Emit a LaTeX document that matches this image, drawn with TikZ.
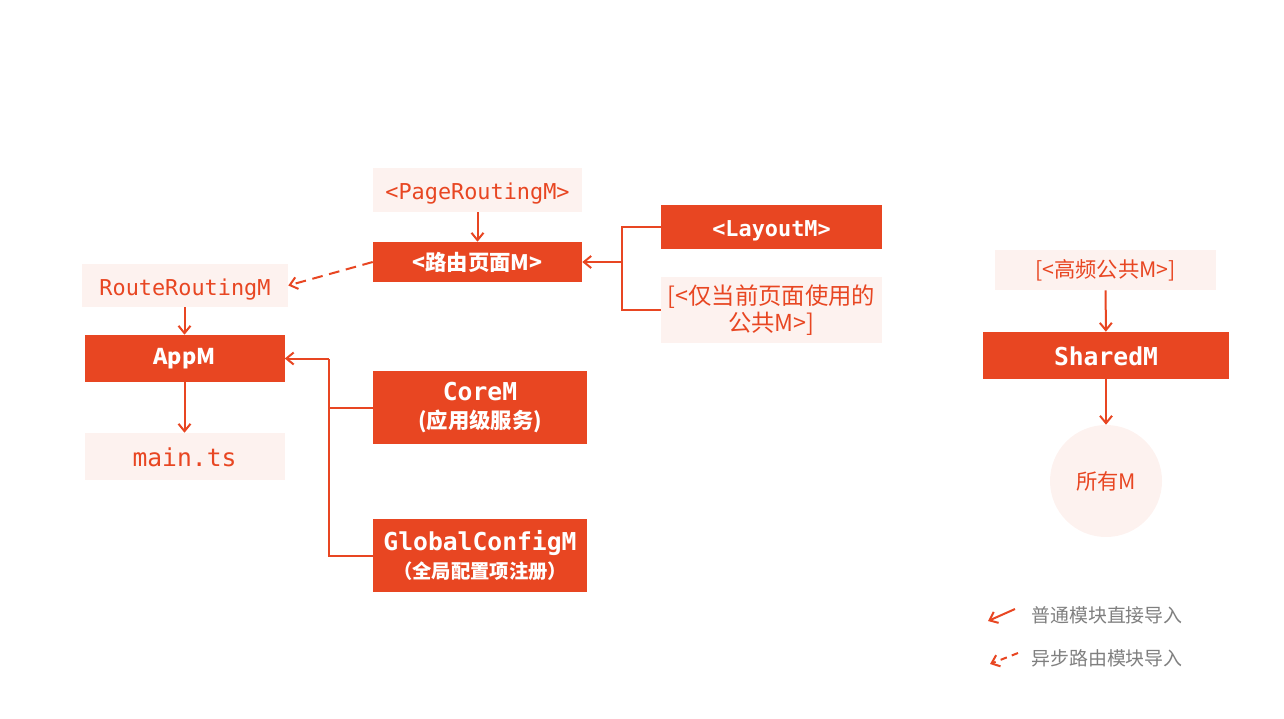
\documentclass[tikz,border=0pt]{standalone}
\usepackage{fontspec}
\setmainfont{Noto Sans CJK SC}
\setmonofont{DejaVu Sans Mono}
\usetikzlibrary{arrows.meta}
\definecolor{org}{HTML}{E84622}
\definecolor{lite}{HTML}{FDF2EF}
\definecolor{gry}{HTML}{7F7F7F}
\newcommand{\monoS}{\ttfamily\fontsize{16.4}{19}\selectfont}
\newcommand{\monoL}{\ttfamily\fontsize{18.5}{21}\selectfont}
\newcommand{\cjkS}{\fontsize{16}{19}\selectfont}
\tikzset{
  darkbox/.style={fill=org,text=white,inner sep=0pt,align=center,anchor=center},
  litebox/.style={fill=lite,text=org,inner sep=0pt,align=center,anchor=center},
  monoadjS/.style={text height=18.8pt,text depth=4pt},
  monoadjL/.style={text height=19.6pt,text depth=4.5pt},
  conn/.style={draw=org,line width=1.5pt},
  arr/.style={conn,-{Straight Barb[length=5.5pt,width=9pt]}},
  legtext/.style={text=gry,anchor=west,inner sep=0pt,font=\fontsize{14.2}{17}\selectfont}
}
\begin{document}
\begin{tikzpicture}[x=0.75pt,y=-0.75pt]
\useasboundingbox (0,0) rectangle (1284,718);
% left/middle
\node[litebox,minimum width=209*0.75pt,minimum height=44*0.75pt,font=\monoS,monoadjS] (page) at (477.5,190) {<PageRoutingM>};
\node[darkbox,minimum width=209*0.75pt,minimum height=40*0.75pt,font=\cjkS\bfseries] (route) at (477.5,262) {<路由页面M>};
\node[darkbox,minimum width=221*0.75pt,minimum height=44*0.75pt,font=\monoS\bfseries,monoadjS] (layout) at (771.5,227) {<LayoutM>};
\node[litebox,minimum width=221*0.75pt,minimum height=66*0.75pt,font=\fontsize{17.5}{20.5}\selectfont] (only) at (771.5,310) {[<仅当前页面使用的\\公共M>]};
\node[litebox,minimum width=206*0.75pt,minimum height=43*0.75pt,font=\monoS,monoadjS] (rr) at (185,285.5) {RouteRoutingM};
\node[darkbox,minimum width=200*0.75pt,minimum height=47*0.75pt,font=\fontsize{16.3}{20}\selectfont\bfseries] (app) at (184.5,358.5) {AppM};
\node[litebox,minimum width=200*0.75pt,minimum height=47*0.75pt,font=\monoL,monoadjL] (main) at (184.5,456.5) {main.ts};
\node[darkbox,minimum width=214*0.75pt,minimum height=73*0.75pt,font=\fontsize{16}{21}\selectfont\bfseries] (core) at (480,407.5) {{\monoL\bfseries CoreM}\\{\cjkS\bfseries (应用级服务)}};
\node[darkbox,minimum width=214*0.75pt,minimum height=73*0.75pt,font=\fontsize{16}{21}\selectfont\bfseries] (global) at (480,555.5) {{\monoL\bfseries GlobalConfigM}\\{\fontsize{14.5}{18}\selectfont\bfseries （全局配置项注册）}};
% right
\node[litebox,minimum width=221*0.75pt,minimum height=40*0.75pt,font=\cjkS] (hf) at (1105.5,270) {[<高频公共M>]};
\node[darkbox,minimum width=246*0.75pt,minimum height=47*0.75pt,font=\monoL\bfseries,monoadjL] (shared) at (1106,355.5) {SharedM};
\node[litebox,circle,minimum size=112*0.75pt,font=\cjkS] (all) at (1106,481) {所有M};
% junctions
\coordinate (jr) at (622,262);
\coordinate (ja) at (329,358.5);
% connectors
\draw[arr] (page) -- (route);
\draw[arr,dash pattern=on 8pt off 5pt] (route.west) -- (rr.east);
\draw[conn] (layout.west) -| (jr);
\draw[conn] (only.west) -| (jr);
\draw[arr] (jr) -- (route.east);
\draw[arr] (rr.south -| app.north) -- (app.north);
\draw[arr] (app) -- (main);
\draw[conn] (core.west) -| (ja);
\draw[conn] (global.west) -| (ja);
\draw[arr] (ja) -- (app.east);
\draw[arr] (hf) -- (shared);
\draw[arr] (shared) -- (all);
% legend
\coordinate (l1s) at (1015,609);
\coordinate (l1e) at (988,621);
\coordinate (l2s) at (1018,653);
\coordinate (l2e) at (990,664);
\draw[arr] (l1s) -- (l1e);
\draw[arr,dash pattern=on 5pt off 4pt] (l2s) -- (l2e);
\node[legtext] (leg1) at (1031,615) {普通模块直接导入};
\node[legtext] (leg2) at (1031,658) {异步路由模块导入};
\end{tikzpicture}
\end{document}
